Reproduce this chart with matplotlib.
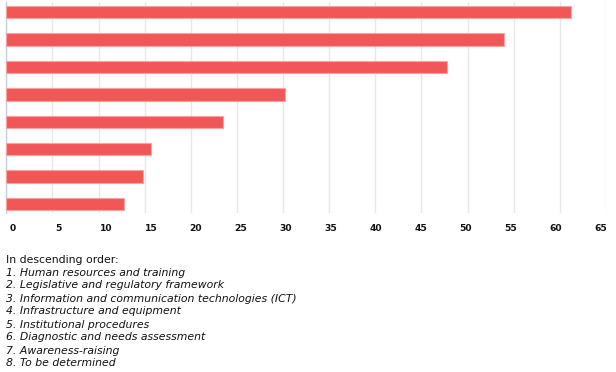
import matplotlib
matplotlib.use("Agg")
import matplotlib.pyplot as plt
from matplotlib.transforms import ScaledTranslation

categories = ["1", "2", "3", "4", "5", "6", "7", "8"]
values = [61.2, 53.9, 47.8, 30.2, 23.5, 15.7, 14.8, 12.8]
xticks = list(range(0, 70, 5))
caption_title = "In descending order:"
caption_items = [
    "1. Human resources and training",
    "2. Legislative and regulatory framework",
    "3. Information and communication technologies (ICT)",
    "4. Infrastructure and equipment",
    "5. Institutional procedures",
    "6. Diagnostic and needs assessment",
    "7. Awareness-raising",
    "8. To be determined",
]

W, H = 616, 372
fig = plt.figure(figsize=(W / 100, H / 100), dpi=100)
left, right, top, bottom = 6.3, 606.0, 2.0, 212.7
ax = fig.add_axes([left / W, 1 - bottom / H, (right - left) / W, (bottom - top) / H])

ypos = list(range(len(categories)))
ax.barh(ypos, values, height=0.45, color="#F25757", edgecolor="#F7A3A3",
        linewidth=0.8, zorder=3)
ax.set_ylim(7.318, -0.372)
ax.set_xlim(0, 65)
ax.set_xticks(xticks)
ax.set_xticklabels([str(t) for t in xticks], fontsize=6.6, fontweight="bold",
                   color="#111111", family="DejaVu Sans")
ax.tick_params(axis="x", length=0, pad=8)
# labels in the reference are spaced slightly tighter than the grid
for i, lab in enumerate(ax.get_xticklabels()):
    lab.set_horizontalalignment("left")
    dx = 3.7 - 1.21 * i
    lab.set_transform(lab.get_transform() + ScaledTranslation(dx / 100, 0, fig.dpi_scale_trans))
ax.set_yticks([])
ax.grid(axis="x", color="#E8E8E8", linewidth=1, zorder=0)
for s in ["top", "right", "bottom"]:
    ax.spines[s].set_visible(False)
ax.spines["left"].set_color("#C8D0E0")
ax.spines["left"].set_linewidth(1)

fig.text(6 / W, 1 - 260 / H, caption_title, fontsize=7.8, color="#111111",
         va="center", ha="left", family="DejaVu Sans")
for i, item in enumerate(caption_items):
    fig.text(6 / W, 1 - (272.5 + 13 * i) / H, item, fontsize=7.8, color="#111111",
             va="center", ha="left", style="italic", family="DejaVu Sans")

fig.savefig("out.png", dpi=100)
